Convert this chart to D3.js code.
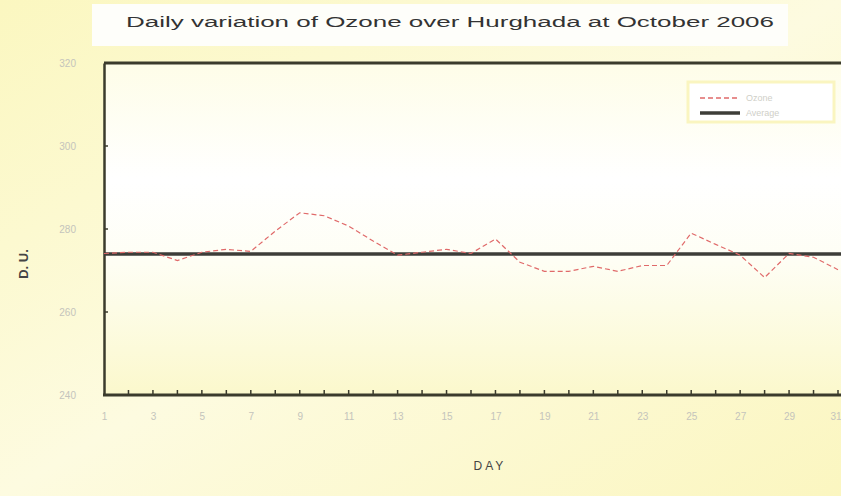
<!DOCTYPE html>
<html><head><meta charset="utf-8">
<script src="https://cdn.jsdelivr.net/npm/d3@7"></script>
<style>body{margin:0;background:#fbf8c8;}svg{display:block;}</style>
</head><body>
<script>
const days = d3.range(1, 32);
const ozone = [274.1,274.4,274.4,272.4,274.4,275.1,274.6,279.5,283.9,283.2,280.7,277.1,273.7,274.4,275.1,274.1,277.6,272.0,269.8,269.8,271.0,269.8,271.2,271.2,279.0,276.3,273.7,268.3,274.1,273.2,270.2];
const average = 274;
const yTicks = [240,260,280,300,320];
const xTickLabels = [1,3,5,7,9,11,13,15,17,19,21,23,25,27,29,31];
const seriesNames = ["Ozone","Average"];
const titleText = "Daily variation of Ozone over Hurghada at October 2006";

const W = 841, H = 496;
const m = {l:104, t:63, b:395};
const svg = d3.select("body").append("svg").attr("width",W).attr("height",H);
const defs = svg.append("defs");
const bg = defs.append("linearGradient").attr("id","bg").attr("x1",0).attr("y1",0).attr("x2",1).attr("y2",1);
bg.append("stop").attr("offset","0%").attr("stop-color","#fbf7c0");
bg.append("stop").attr("offset","50%").attr("stop-color","#fdfbe0");
bg.append("stop").attr("offset","100%").attr("stop-color","#fbf6c0");
const pg = defs.append("linearGradient").attr("id","pg").attr("x1",0).attr("y1",0).attr("x2",0).attr("y2",1);
pg.append("stop").attr("offset","0%").attr("stop-color","#fefde8");
pg.append("stop").attr("offset","35%").attr("stop-color","#ffffff");
pg.append("stop").attr("offset","60%").attr("stop-color","#fefef4");
pg.append("stop").attr("offset","100%").attr("stop-color","#fbf8cc");

svg.append("rect").attr("width",W).attr("height",H).attr("fill","url(#bg)");
// title box
svg.append("rect").attr("x",92).attr("y",4).attr("width",696).attr("height",42).attr("fill","#fefefa");
svg.append("text").attr("x",126).attr("y",27).attr("textLength",648).attr("lengthAdjust","spacingAndGlyphs")
  .attr("font-family","Liberation Sans Narrow, Liberation Sans, sans-serif").attr("font-size",14).attr("fill","#333")
  .text(titleText);

const x = d3.scaleLinear().domain([1,31]).range([m.l, 838]);
const y = d3.scaleLinear().domain([240,320]).range([m.b, m.t]);

// plot area
svg.append("rect").attr("x",m.l).attr("y",m.t).attr("width",W - m.l + 20).attr("height",m.b-m.t).attr("fill","url(#pg)");

// frame top
svg.append("line").attr("x1",m.l).attr("x2",W+5).attr("y1",m.t).attr("y2",m.t).attr("stroke","#3b3b2c").attr("stroke-width",3);

// y axis
const yAxis = d3.axisLeft(y).tickValues(yTicks).tickSize(0).tickPadding(28);
const ga = svg.append("g").attr("transform",`translate(${m.l},0)`).call(yAxis);
ga.select(".domain").attr("stroke","#3b3b2c").attr("stroke-width",2.5);
ga.selectAll("text").attr("font-family","Liberation Sans, sans-serif").attr("font-size",10).attr("fill","#c4c4bc");
svg.append("g").selectAll("line").data(yTicks.slice(1,-1)).join("line")
  .attr("x1",m.l).attr("x2",m.l+4).attr("y1",d=>y(d)).attr("y2",d=>y(d)).attr("stroke","#3b3b2c").attr("stroke-width",1.5);

// x axis
const xAxis = d3.axisBottom(x).tickValues(xTickLabels).tickSize(0).tickPadding(18).tickFormat(d3.format("d"));
const gx = svg.append("g").attr("transform",`translate(0,${m.b})`).call(xAxis);
gx.select(".domain").remove();
gx.selectAll("text").attr("font-family","Liberation Sans, sans-serif").attr("font-size",10).attr("fill","#c4c4bc")
  .filter(d=>d===31).attr("text-anchor","end").attr("dx",3);
svg.append("line").attr("x1",m.l-1).attr("x2",W+5).attr("y1",m.b).attr("y2",m.b).attr("stroke","#3b3b2c").attr("stroke-width",3);
svg.append("g").selectAll("line").data(days.slice(1)).join("line")
  .attr("x1",d=>x(d)).attr("x2",d=>x(d)).attr("y1",m.b).attr("y2",m.b-5).attr("stroke","#3b3b2c").attr("stroke-width",1.5);

// average line
svg.append("line").attr("x1",x(1)).attr("x2",W+5).attr("y1",y(average)).attr("y2",y(average))
  .attr("stroke","#3d3d38").attr("stroke-width",3.5);

// ozone line
const line = d3.line().x((d,i)=>x(days[i])).y(d=>y(d));
svg.append("path").datum(ozone).attr("d",line).attr("fill","none")
  .attr("stroke","#e06a6a").attr("stroke-width",1.2).attr("stroke-dasharray","5,3");

// legend
const lg = svg.append("g");
lg.append("rect").attr("x",688).attr("y",82).attr("width",146).attr("height",40).attr("fill","#ffffff").attr("stroke","#faf5c0").attr("stroke-width",3);
lg.append("line").attr("x1",700).attr("x2",738).attr("y1",98).attr("y2",98).attr("stroke","#e06a6a").attr("stroke-width",1.5).attr("stroke-dasharray","5,3");
lg.append("line").attr("x1",700).attr("x2",740).attr("y1",113).attr("y2",113).attr("stroke","#3d3d38").attr("stroke-width",3.5);
lg.selectAll("text").data(seriesNames).join("text").attr("x",746).attr("y",(d,i)=>101+i*15)
  .attr("font-family","Liberation Sans, sans-serif").attr("font-size",9).attr("fill","#cfcfc8").text(d=>d);

// axis titles
svg.append("text").attr("transform","translate(28,264) rotate(-90)").attr("text-anchor","middle")
  .attr("font-family","Liberation Sans, sans-serif").attr("font-weight","bold").attr("font-size",13).attr("fill","#444")
  .text("D. U.");
svg.append("text").attr("x",490).attr("y",470).attr("text-anchor","middle").attr("letter-spacing",3)
  .attr("font-family","Liberation Sans, sans-serif").attr("font-size",12).attr("fill","#444")
  .text("DAY");
</script>
</body></html>
